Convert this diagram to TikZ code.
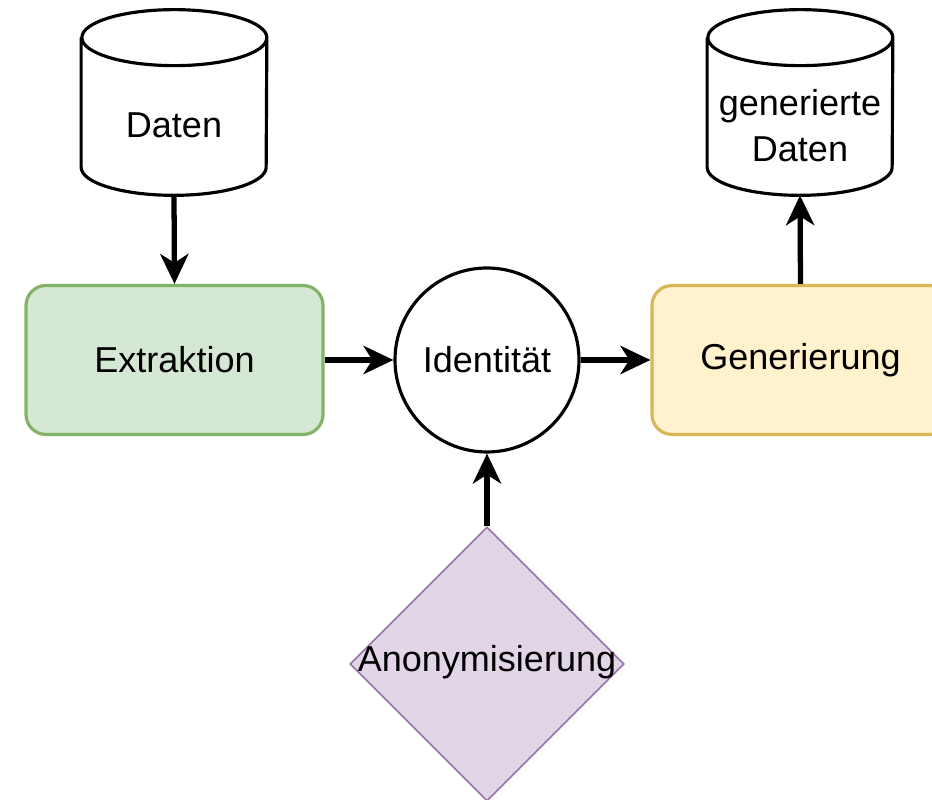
\documentclass[tikz,border=0pt]{standalone}
\usepackage{xcolor}
\usepackage{fontspec}
\setmainfont{Liberation Sans}
\usepackage{tikz}
\usetikzlibrary{shapes.geometric,arrows.meta}

\definecolor{extrfill}{HTML}{D5E8D4}
\definecolor{extrdraw}{HTML}{82B366}
\definecolor{genfill}{HTML}{FFF2CC}
\definecolor{gendraw}{HTML}{D6B656}
\definecolor{anonfill}{HTML}{E1D5E7}
\definecolor{anondraw}{HTML}{9673A6}

\begin{document}
\begin{tikzpicture}[
    font=\fontsize{20.5}{26.5}\selectfont,
    >={Stealth[length=17pt,width=16pt,inset=5pt]},
    flow/.style={->,line width=3pt},
    box/.style={rectangle,rounded corners=0.4cm,line width=1.8pt,minimum width=5.94cm,minimum height=2.98cm},
    db/.style={rectangle,inner sep=0,minimum width=3.7cm,minimum height=3.7cm},
    dbline/.style={draw=black,fill=white,line width=1.8pt}
  ]
  \useasboundingbox (0,0) rectangle (18.64,16);  % page size

  %% data stores (outline drawn below)
  \node[db] (daten) at (3.48,13.95) {};
  \node[db] (gendaten) at (16.0,13.95) {};

  %% processing steps
  \node[box,draw=extrdraw,fill=extrfill] (extr) at (3.49,8.8) {Extraktion};
  \node[circle,draw=black,fill=white,line width=1.8pt,inner sep=0,minimum size=3.68cm] (ident) at (9.74,8.8) {Identität};
  \node[box,draw=gendraw,fill=genfill] (gen) at (16.01,8.8) {Generierung};
  \node[diamond,aspect=1,draw=anondraw,fill=anonfill,line width=0.9pt,inner sep=0,minimum width=5.48cm,minimum height=5.48cm,
        label={[yshift=0.04cm]center:Anonymisierung}] (anon) at (9.74,2.72) {};

  %% cylinders
  \foreach \n in {daten,gendaten} {
    \draw[dbline] ([yshift=-0.56cm]\n.north west) -- ([yshift=0.56cm]\n.south west)
      arc[start angle=180,end angle=360,x radius=1.85cm,y radius=0.56cm]
      -- ([yshift=-0.56cm]\n.north east)
      arc[start angle=0,end angle=180,x radius=1.85cm,y radius=0.56cm]
      arc[start angle=180,end angle=360,x radius=1.85cm,y radius=0.56cm];
  }
  \node (datentxt) at (daten) [yshift=-0.46cm] {Daten};
  \node (gendatentxt) at (gendaten) [yshift=-0.46cm,align=center] {generierte\\Daten};

  %% connections
  \draw[flow] (daten.south) -- (extr.north);
  \draw[flow] (extr.east) -- (ident.west);
  \draw[flow] (ident.east) -- (gen.west);
  \draw[flow] (anon.north) -- (ident.south);
  \draw[flow] (gen.north) -- (gendaten.south);
\end{tikzpicture}
\end{document}
